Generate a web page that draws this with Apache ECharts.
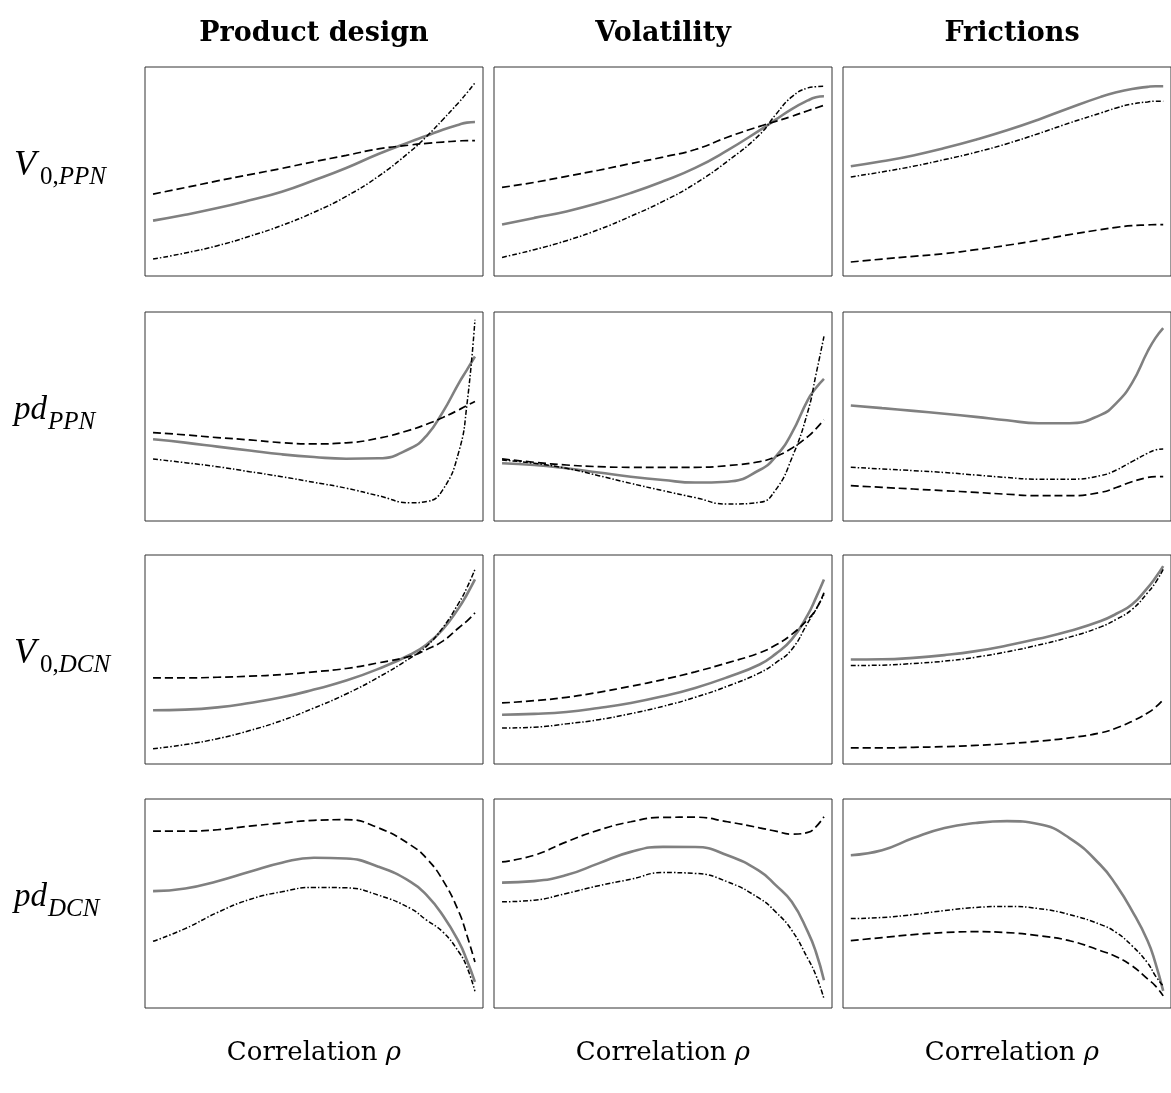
<!DOCTYPE html>
<html>
<head>
<meta charset="utf-8">
<script src="https://cdn.jsdelivr.net/npm/echarts@6/dist/echarts.min.js"></script>
<style>
html,body{margin:0;padding:0;background:#fff;}
#chart{width:1171px;height:1093px;}
</style>
</head>
<body>
<div id="chart"></div>
<script>
// ---- shared x grid (correlation, normalised 0..1) ----
const RHO = [0, 0.1, 0.2, 0.3, 0.4, 0.5, 0.6, 0.7, 0.8, 0.85, 0.9, 0.95, 0.975, 1];
const COL_TITLES = ['Product design', 'Volatility', 'Frictions'];
const X_LABEL = 'Correlation ';
const X_SYMBOL = 'ρ';

// ---- row 1: V0,PPN ----
const V0PPN_design_base    = [26.5, 29.3, 32.5, 36.2, 40.3, 45.8, 51.7, 58.4, 64.3, 67.1, 70.0, 72.4, 73.4, 73.7];
const V0PPN_design_dash    = [39.2, 42.3, 45.5, 48.5, 51.5, 54.7, 57.7, 60.8, 62.7, 63.5, 64.1, 64.6, 64.8, 64.8];
const V0PPN_design_dashdot = [8.1, 11.0, 14.5, 19.0, 24.2, 30.5, 38.1, 47.7, 59.7, 66.8, 74.8, 83.1, 87.6, 92.4];
const V0PPN_vol_base       = [24.6, 27.8, 30.9, 34.9, 39.7, 45.3, 51.7, 60.1, 69.7, 74.8, 79.9, 84.0, 85.5, 86.0];
const V0PPN_vol_dash       = [42.4, 44.8, 47.7, 50.6, 53.8, 56.9, 60.5, 66.4, 71.6, 74.0, 76.4, 79.1, 80.4, 81.7];
const V0PPN_vol_dashdot    = [8.9, 12.6, 16.9, 22.2, 28.6, 35.7, 44.2, 54.9, 67.6, 77.2, 85.7, 90.0, 90.6, 90.8];
const V0PPN_fric_base      = [52.5, 54.9, 57.7, 61.2, 65.2, 69.7, 74.8, 80.4, 85.7, 87.9, 89.5, 90.5, 90.8, 90.8];
const V0PPN_fric_dash      = [6.7, 8.1, 9.4, 10.7, 12.6, 14.7, 17.1, 19.8, 22.2, 23.3, 24.1, 24.4, 24.6, 24.6];
const V0PPN_fric_dashdot   = [47.4, 49.8, 52.5, 55.7, 59.2, 63.3, 68.1, 73.2, 78.0, 80.4, 82.3, 83.3, 83.6, 83.6];

// ---- row 2: pd_PPN ----
const pdPPN_design_base    = [39.1, 37.5, 35.6, 33.7, 31.9, 30.6, 29.8, 30.0, 34.8, 40.9, 52.1, 66.0, 72.3, 78.7];
const pdPPN_design_dash    = [42.3, 41.2, 39.9, 38.8, 37.5, 36.9, 37.4, 39.6, 43.6, 46.3, 49.5, 53.2, 55.3, 57.2];
const pdPPN_design_dashdot = [29.7, 27.9, 26.0, 23.6, 21.2, 18.5, 15.7, 12.1, 8.7, 9.3, 14.9, 33.2, 55.6, 96.3];
const pdPPN_vol_base       = [27.6, 26.8, 25.2, 23.2, 21.2, 19.6, 18.4, 18.8, 24.4, 30.8, 42.0, 58.0, 63.6, 68.0];
const pdPPN_vol_dash       = [29.7, 28.1, 26.8, 26.0, 25.7, 25.7, 25.7, 26.5, 28.4, 30.8, 34.8, 40.4, 44.1, 48.4];
const pdPPN_vol_dashdot    = [29.2, 27.6, 25.2, 21.7, 18.0, 14.5, 11.2, 8.1, 8.9, 14.9, 30.0, 52.4, 69.9, 88.3];
const pdPPN_fric_base      = [55.3, 54.0, 52.7, 51.3, 49.8, 48.2, 46.8, 46.8, 50.8, 56.4, 66.0, 81.1, 87.5, 92.3];
const pdPPN_fric_dash      = [16.9, 16.1, 15.3, 14.5, 13.7, 12.8, 12.1, 12.1, 13.7, 16.0, 18.8, 20.8, 21.2, 21.2];
const pdPPN_fric_dashdot   = [25.7, 24.9, 24.1, 23.2, 22.0, 20.8, 20.0, 20.0, 21.7, 24.4, 28.4, 32.4, 34.0, 34.5];

// ---- row 3: V0,DCN ----
const V0DCN_design_base    = [25.7, 26.0, 27.1, 29.2, 31.9, 35.6, 39.9, 45.5, 52.4, 57.2, 64.4, 74.7, 81.1, 88.3];
const V0DCN_design_dash    = [41.2, 41.2, 41.5, 42.0, 42.8, 44.1, 45.7, 48.4, 51.6, 54.8, 58.8, 65.2, 68.4, 72.3];
const V0DCN_design_dashdot = [7.3, 9.3, 12.1, 16.0, 20.8, 26.8, 33.5, 41.5, 50.8, 56.4, 65.2, 77.1, 84.3, 93.1];
const V0DCN_vol_base       = [23.6, 24.0, 24.9, 26.8, 29.2, 32.4, 36.4, 41.5, 47.6, 52.7, 59.6, 71.5, 79.5, 88.3];
const V0DCN_vol_dash       = [29.2, 30.3, 31.9, 34.3, 37.2, 40.4, 44.1, 48.4, 53.2, 56.9, 62.0, 69.2, 73.9, 81.9];
const V0DCN_vol_dashdot    = [17.2, 17.6, 19.2, 21.2, 24.1, 27.6, 31.9, 37.2, 43.6, 48.4, 54.8, 67.6, 73.9, 81.1];
const V0DCN_fric_base      = [50.0, 50.1, 50.8, 52.1, 54.0, 56.7, 59.9, 63.6, 68.4, 71.9, 76.3, 84.3, 89.1, 94.7];
const V0DCN_fric_dash      = [7.7, 7.7, 8.0, 8.3, 8.9, 9.7, 10.9, 12.5, 14.9, 17.2, 20.4, 24.4, 27.1, 30.8];
const V0DCN_fric_dashdot   = [47.1, 47.3, 48.1, 49.2, 51.1, 53.7, 56.9, 60.7, 65.6, 69.2, 73.9, 81.9, 86.7, 93.1];

// ---- row 4: pd_DCN ----
const pdDCN_design_base    = [55.9, 57.2, 60.7, 65.2, 69.5, 71.9, 71.5, 67.6, 60.4, 54.0, 44.4, 31.6, 22.8, 12.5];
const pdDCN_design_dash    = [84.6, 84.6, 85.3, 87.0, 88.5, 89.8, 90.1, 86.2, 78.0, 71.5, 61.2, 46.0, 34.8, 22.0];
const pdDCN_design_dashdot = [31.9, 38.0, 45.7, 51.9, 55.6, 57.7, 57.5, 54.0, 47.6, 42.0, 36.4, 26.8, 19.6, 8.0];
const pdDCN_vol_base       = [60.0, 60.7, 63.6, 69.2, 74.7, 77.1, 77.0, 73.1, 65.5, 58.8, 50.8, 36.4, 26.8, 13.3];
const pdDCN_vol_dash       = [69.9, 73.1, 79.5, 85.1, 89.1, 91.2, 91.3, 89.1, 86.2, 84.6, 83.2, 84.0, 86.7, 91.5];
const pdDCN_vol_dashdot    = [50.8, 51.6, 54.8, 58.5, 61.6, 64.8, 64.4, 60.4, 52.4, 46.0, 37.2, 23.6, 15.7, 4.5];
const pdDCN_fric_base      = [73.1, 75.5, 81.3, 86.1, 88.5, 89.4, 88.0, 81.3, 68.3, 58.7, 46.6, 32.2, 21.6, 8.2];
const pdDCN_fric_dash      = [32.2, 33.7, 35.1, 36.1, 36.5, 36.1, 34.6, 32.2, 27.4, 24.5, 20.2, 13.9, 10.6, 5.8];
const pdDCN_fric_dashdot   = [42.8, 43.3, 44.7, 46.6, 48.1, 48.6, 47.6, 44.7, 39.9, 36.1, 29.8, 21.6, 15.4, 10.6];

const PANELS = [
  [[V0PPN_design_base, V0PPN_design_dash, V0PPN_design_dashdot],
   [V0PPN_vol_base, V0PPN_vol_dash, V0PPN_vol_dashdot],
   [V0PPN_fric_base, V0PPN_fric_dash, V0PPN_fric_dashdot]],
  [[pdPPN_design_base, pdPPN_design_dash, pdPPN_design_dashdot],
   [pdPPN_vol_base, pdPPN_vol_dash, pdPPN_vol_dashdot],
   [pdPPN_fric_base, pdPPN_fric_dash, pdPPN_fric_dashdot]],
  [[V0DCN_design_base, V0DCN_design_dash, V0DCN_design_dashdot],
   [V0DCN_vol_base, V0DCN_vol_dash, V0DCN_vol_dashdot],
   [V0DCN_fric_base, V0DCN_fric_dash, V0DCN_fric_dashdot]],
  [[pdDCN_design_base, pdDCN_design_dash, pdDCN_design_dashdot],
   [pdDCN_vol_base, pdDCN_vol_dash, pdDCN_vol_dashdot],
   [pdDCN_fric_base, pdDCN_fric_dash, pdDCN_fric_dashdot]]
];

// ---- layout (presentation only) ----
const COL_LEFT = [145, 494, 843];
const ROW_TOP = [67, 312, 555, 799];
const PW = 338, PH = 209;

const LINE_STYLES = [
  {color: '#808080', width: 2.6, type: 'solid'},
  {color: '#000', width: 1.7, type: [8, 4]},
  {color: '#000', width: 1.5, type: [5, 2, 1.5, 2]}
];

const grids = [], xAxes = [], yAxes = [], series = [];
let gi = 0;
for (let r = 0; r < 4; r++) {
  for (let c = 0; c < 3; c++) {
    grids.push({left: COL_LEFT[c], top: ROW_TOP[r], width: PW, height: PH,
      show: true, borderColor: '#333', borderWidth: 1, backgroundColor: 'transparent', containLabel: false});
    xAxes.push({type: 'value', gridIndex: gi, min: -0.025, max: 1.025, show: false});
    yAxes.push({type: 'value', gridIndex: gi, min: 0, max: 100, show: false});
    PANELS[r][c].forEach((vals, k) => {
      series.push({
        type: 'line', xAxisIndex: gi, yAxisIndex: gi, smooth: 0.5, showSymbol: false,
        silent: true, animation: false, z: k === 0 ? 2 : 3,
        lineStyle: LINE_STYLES[k],
        data: RHO.map((x, i) => [x, vals[i]])
      });
    });
    gi++;
  }
}

const graphic = [];
const colCenter = c => COL_LEFT[c] + PW / 2;
COL_TITLES.forEach((t, c) => {
  graphic.push({type: 'text', x: colCenter(c), y: 34, silent: true,
    style: {text: t, font: 'bold 27px "DejaVu Serif"', fill: '#000', textAlign: 'center', textVerticalAlign: 'middle'}});
  graphic.push({type: 'text', x: colCenter(c), y: 1053, silent: true,
    style: {text: '{r|' + X_LABEL + '}{g|' + X_SYMBOL + '}', fill: '#000', textAlign: 'center', textVerticalAlign: 'middle',
      rich: {
        r: {font: '26px "DejaVu Serif"', fill: '#000'},
        g: {font: 'italic 26px "DejaVu Serif"', fill: '#000'}
      }}});
});

const ROW_LABELS = [
  {main: 'V', sub: [['0,', 'up'], ['PPN', 'it']]},
  {main: 'pd', sub: [['PPN', 'it']]},
  {main: 'V', sub: [['0,', 'up'], ['DCN', 'it']]},
  {main: 'pd', sub: [['DCN', 'it']]}
];
ROW_LABELS.forEach((lab, r) => {
  const cy = ROW_TOP[r] + PH / 2;
  const isV = lab.main === 'V';
  graphic.push({type: 'text', x: 14, y: cy - 6, silent: true,
    style: {text: lab.main, font: isV ? 'italic 36px "Liberation Serif"' : 'italic 33px "Liberation Serif"',
      fill: '#000', textAlign: 'left', textVerticalAlign: 'middle'}});
  graphic.push({type: 'text', x: isV ? 40 : 48, y: cy + 6, silent: true,
    style: {
      text: lab.sub.map(s => '{' + s[1] + '|' + s[0] + '}').join(''),
      textAlign: 'left', textVerticalAlign: 'middle', fill: '#000',
      rich: {
        up: {font: '25px "Liberation Serif"', fill: '#000'},
        it: {font: 'italic 25px "Liberation Serif"', fill: '#000'}
      }
    }});
});

const chart = echarts.init(document.getElementById('chart'), null, {renderer: 'canvas'});
chart.setOption({
  backgroundColor: '#fff',
  animation: false,
  grid: grids, xAxis: xAxes, yAxis: yAxes, series: series,
  graphic: graphic
});
</script>
</body>
</html>
